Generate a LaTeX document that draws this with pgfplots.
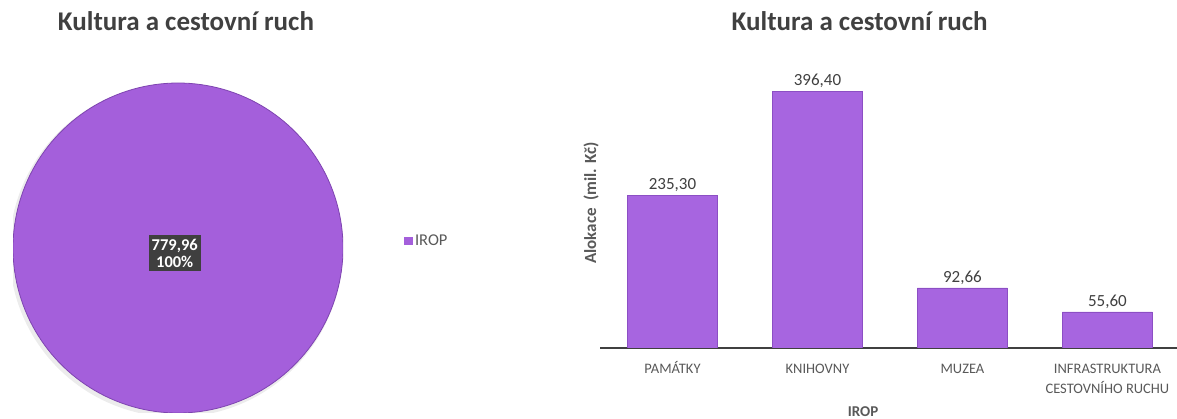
\documentclass[border=0pt]{standalone}
\usepackage{fontspec}
\setmainfont{Carlito}
\usepackage{pgfplots}
\pgfplotsset{compat=1.18}
\usepackage{pgfplotstable}
\definecolor{piepurple}{HTML}{A45FDB}
\definecolor{pieedge}{HTML}{7E44B0}
\definecolor{barpurple}{HTML}{A765E0}
\definecolor{baredge}{HTML}{8C4FC4}
\definecolor{titlegray}{HTML}{404040}
\definecolor{tickgray}{HTML}{595959}
\definecolor{boxgray}{HTML}{3F3F3F}
\pgfplotstableread{
cat value
0 235.30
1 396.40
2 92.66
3 55.60
}\bardata
\pgfplotstableread{
name value
IROP 779.96
}\piedata
\begin{document}
\begin{tikzpicture}
\useasboundingbox (0,0) rectangle (1177bp,419bp);
\pgfmathsetmacro\pieang{360*(779.96/779.96)}
% ---------------- pie ----------------
\begin{axis}[
  at={(13bp,6bp)}, anchor=south west,
  scale only axis, width=330bp, height=330bp,
  xmin=-1, xmax=1, ymin=-1, ymax=1,
  hide axis,
  title={Kultura a cestovní ruch},
  title style={at={(axis description cs:0.524,1)}, anchor=center, yshift=56bp,
    font=\fontsize{27bp}{30bp}\selectfont\bfseries, text=titlegray},
  legend style={draw=none, fill=none, at={(1.185,0.521)}, anchor=west,
    font=\fontsize{16.5bp}{18bp}\selectfont, text=tickgray, inner sep=0pt,
    cells={anchor=west}},
  legend image code/.code={\fill[piepurple] (0bp,-3.5bp) rectangle (8bp,4bp);},
]
\addplot[fill=black!12, draw=none, opacity=0.6, domain=0:\pieang, samples=181, forget plot]
  ({-0.012+1.01*cos(x)},{-0.015+1.01*sin(x)}) -- cycle;
\addplot[fill=piepurple, draw=pieedge, line width=0.8bp, domain=90:90-\pieang, samples=181]
  ({cos(x)},{sin(x)}) -- cycle;
\addlegendentry{IROP}
\node[fill=boxgray, text=white, align=center, inner xsep=3bp, inner ysep=4bp,
  font=\fontsize{16.5bp}{17bp}\selectfont\bfseries] at (axis cs:-0.02,-0.03) {779,96\\100\%};
\end{axis}
% ---------------- bars ----------------
\begin{axis}[
  at={(600bp,71bp)}, anchor=south west,
  scale only axis, width=577bp, height=287bp,
  xmin=-0.5, xmax=3.48, ymin=0, ymax=443,
  axis x line=bottom, axis y line=left,
  x axis line style={-, draw=titlegray, line width=1.5bp},
  y axis line style={draw=none},
  xtick=data, major tick length=0pt,
  xticklabels={PAMÁTKY, KNIHOVNY, MUZEA, {\begin{tabular}[t]{@{}c@{}}INFRASTRUKTURA\\CESTOVNÍHO RUCHU\end{tabular}}},
  xticklabel style={text=tickgray, font=\fontsize{14.5bp}{20bp}\selectfont,
    anchor=base, yshift=-25bp},
  ytick=\empty,
  title={Kultura a cestovní ruch},
  title style={at={(axis description cs:0.45,1)}, anchor=center, yshift=34bp,
    font=\fontsize{27bp}{30bp}\selectfont\bfseries, text=titlegray},
  xlabel={IROP},
  xlabel style={at={(axis description cs:0.456,0)}, anchor=center, yshift=-64bp,
    font=\fontsize{15bp}{17bp}\selectfont\bfseries, text=tickgray},
  ylabel={Alokace\ \ (mil. Kč)},
  ylabel style={at={(axis description cs:-0.0156,0.505)}, anchor=center, rotate=0,
    font=\fontsize{17bp}{19bp}\selectfont\bfseries, text=tickgray},
  nodes near coords,
  every node near coord/.append style={text=titlegray,
    font=\fontsize{17bp}{19bp}\selectfont, yshift=0bp},
  /pgf/number format/.cd, use comma, fixed, fixed zerofill, precision=2,
    assume math mode=true,
]
\addplot[ybar, bar width=90bp, fill=barpurple, draw=baredge, line width=0.6bp]
  table[x=cat, y=value] {\bardata};
\end{axis}
\end{tikzpicture}
\end{document}
